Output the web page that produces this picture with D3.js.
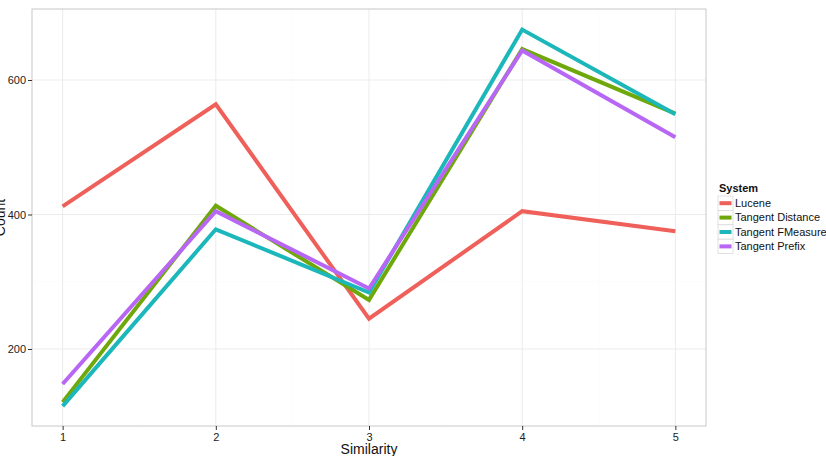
<!DOCTYPE html>
<html>
<head>
<meta charset="utf-8">
<script src="https://cdn.jsdelivr.net/npm/d3@7"></script>
<style>
  body { margin: 0; background: #fff; }
  svg { font-family: "Liberation Sans", Arial, sans-serif; }
</style>
</head>
<body>
<svg id="chart" width="826" height="456"></svg>
<script>
// data
var similarity = [1, 2, 3, 4, 5];
var systems = ["Lucene", "Tangent Distance", "Tangent FMeasure", "Tangent Prefix"];
var lucene = [412, 564, 245, 405, 375];
var tangentDistance = [121, 413, 273, 646, 550];
var tangentFMeasure = [115, 378, 284, 675, 549];
var tangentPrefix = [148, 405, 290, 644, 515];
var colors = ["#F0605B", "#6FA80A", "#1BB7BA", "#B867F5"];
var yTicks = [200, 400, 600];
var yMinor = [300, 500];

var series = [lucene, tangentDistance, tangentFMeasure, tangentPrefix];

var svg = d3.select("#chart");
var margin = {top: 9, left: 32, right: 120, bottom: 30};
var width = 706 - margin.left;
var height = 426 - margin.top;

var g = svg.append("g")
    .attr("transform", "translate(" + margin.left + "," + margin.top + ")");

var x = d3.scaleLinear().domain([0.8, 5.2]).range([0, width]);
var y = d3.scaleLinear().domain([85.5, 705.6]).range([height, 0]);

// minor grid
g.selectAll(".vminor").data([1.5, 2.5, 3.5, 4.5]).enter().append("line")
    .attr("x1", d => x(d)).attr("x2", d => x(d))
    .attr("y1", 0).attr("y2", height)
    .attr("stroke", "#fafafa").attr("stroke-width", 0.5);
g.selectAll(".hminor").data(yMinor).enter().append("line")
    .attr("y1", d => y(d)).attr("y2", d => y(d))
    .attr("x1", 0).attr("x2", width)
    .attr("stroke", "#fafafa").attr("stroke-width", 0.5);
// major grid
g.selectAll(".vmajor").data(similarity).enter().append("line")
    .attr("x1", d => x(d)).attr("x2", d => x(d))
    .attr("y1", 0).attr("y2", height)
    .attr("stroke", "#ebebeb").attr("stroke-width", 1);
g.selectAll(".hmajor").data(yTicks).enter().append("line")
    .attr("y1", d => y(d)).attr("y2", d => y(d))
    .attr("x1", 0).attr("x2", width)
    .attr("stroke", "#ebebeb").attr("stroke-width", 1);

// lines
var line = d3.line()
    .x((d, i) => x(similarity[i]))
    .y(d => y(d));

g.selectAll(".series").data(series).enter().append("path")
    .attr("d", d => line(d))
    .attr("fill", "none")
    .attr("stroke", (d, i) => colors[i])
    .attr("stroke-width", 4)
    .attr("stroke-linejoin", "miter");

// panel border
g.append("rect")
    .attr("x", 0).attr("y", 0)
    .attr("width", width).attr("height", height)
    .attr("fill", "none").attr("stroke", "#c8c8c8").attr("stroke-width", 1);

// axes
var xAxis = g.append("g")
    .attr("transform", "translate(0," + height + ")")
    .call(d3.axisBottom(x).tickValues(similarity).tickSize(4).tickPadding(3).tickFormat(d3.format("d")));
var yAxis = g.append("g")
    .call(d3.axisLeft(y).tickValues(yTicks).tickSize(4).tickPadding(2));

[xAxis, yAxis].forEach(function(a) {
  a.select(".domain").remove();
  a.selectAll("line").attr("stroke", "#333");
  a.selectAll("text").attr("font-size", 11).attr("fill", "#222")
    .attr("font-family", "Liberation Sans, Arial, sans-serif");
});

// axis titles
svg.append("text")
    .attr("x", margin.left + x(3))
    .attr("y", 454)
    .attr("text-anchor", "middle")
    .attr("font-size", 14)
    .attr("fill", "#111")
    .text("Similarity");

svg.append("text")
    .attr("transform", "translate(5," + (margin.top + height / 2) + ") rotate(-90)")
    .attr("text-anchor", "middle")
    .attr("font-size", 14)
    .attr("fill", "#111")
    .text("Count");

// legend
var legend = svg.append("g").attr("transform", "translate(718,183)");
legend.append("text")
    .attr("x", 1).attr("y", 9)
    .attr("font-size", 11).attr("font-weight", "bold").attr("fill", "#111")
    .text("System");

var items = legend.selectAll(".item").data(systems).enter().append("g")
    .attr("transform", (d, i) => "translate(0," + (13 + i * 14.4) + ")");
items.append("rect")
    .attr("width", 15).attr("height", 14.4)
    .attr("fill", "#fff").attr("stroke", "#d9d9d9").attr("stroke-width", 0.8);
items.append("line")
    .attr("x1", 1.5).attr("x2", 13.5).attr("y1", 7.2).attr("y2", 7.2)
    .attr("stroke", (d, i) => colors[i]).attr("stroke-width", 4);
items.append("text")
    .attr("x", 17).attr("y", 11)
    .attr("font-size", 11).attr("fill", "#111")
    .text(d => d);
</script>
</body>
</html>
